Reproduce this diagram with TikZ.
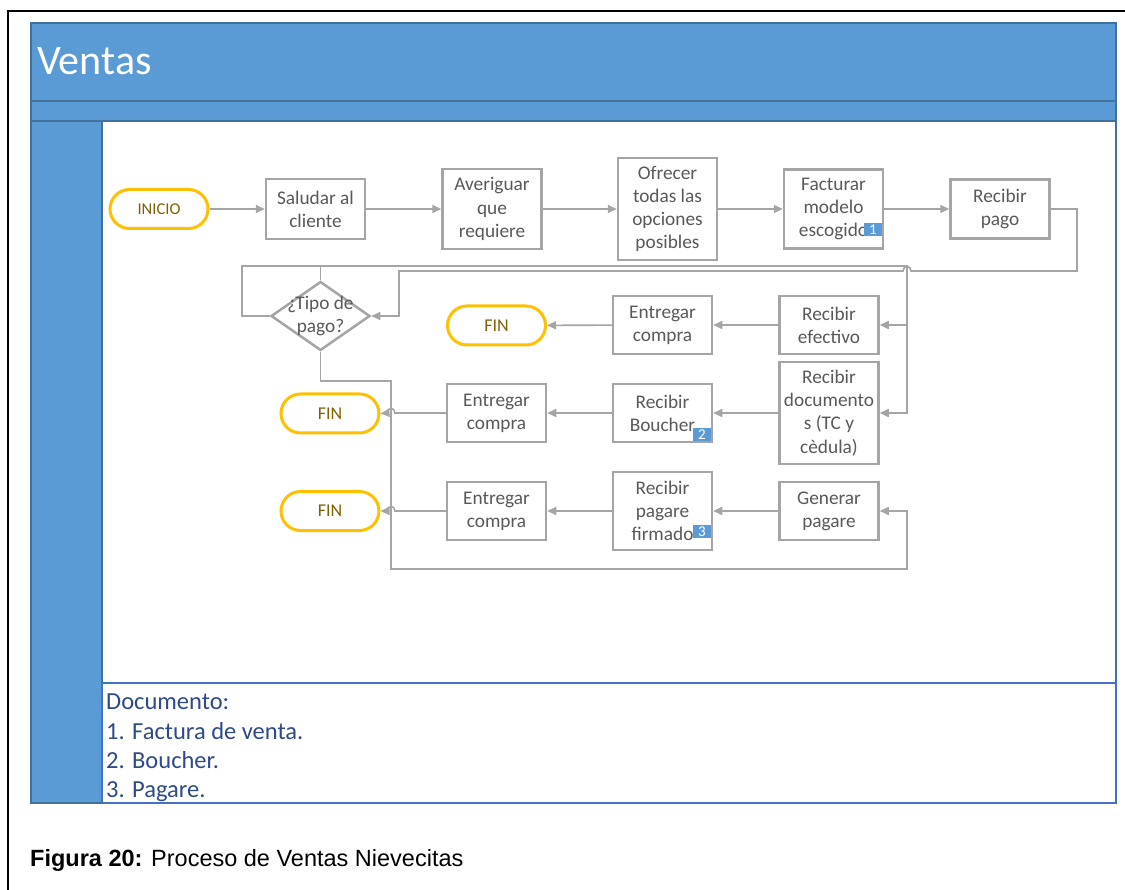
\documentclass[tikz,border=0pt]{standalone}
\usepackage{fontspec}
\setmainfont{Carlito}
\newfontfamily\capfont{Liberation Sans}
\usetikzlibrary{arrows.meta,shapes.geometric,calc}
\definecolor{lane}{HTML}{5B9BD5}
\definecolor{laneline}{HTML}{41719C}
\definecolor{docline}{HTML}{4472C4}
\definecolor{doctext}{HTML}{2E4A87}
\definecolor{boxline}{HTML}{A5A5A5}
\definecolor{boxtext}{HTML}{595959}
\definecolor{termline}{HTML}{FFC000}
\definecolor{termtext}{HTML}{7F6000}
\tikzset{
  stepbox/.style={draw=boxline, line width=2.5pt, fill=white, minimum width=99pt,
    align=center, text=boxtext, font=\fontsize{19.3}{23.2}\selectfont, inner sep=0pt},
  term/.style={draw=termline, line width=3pt, rounded corners=19.5pt, minimum width=98pt,
    minimum height=39pt, text=termtext, inner sep=0pt, fill=white},
  conn/.style={draw=boxline, line width=1.6pt},
  arr/.style={conn, -{Triangle[length=9pt,width=8pt]}},
  badge/.style={fill=lane, text=white, minimum width=18pt, minimum height=13pt,
    inner sep=0pt, font=\fontsize{15}{15}\selectfont},
  doc/.style={anchor=base west, inner sep=0pt, text=doctext, font=\fontsize{24.5}{29}\selectfont}
}
\begin{document}
\begin{tikzpicture}[x=1pt,y=-1pt]
\useasboundingbox (0,0) rectangle (1125,890);
% frame
\draw[line width=2pt, black] (8,890) -- (8,11) -- (1125,11);
% pool / lane
\fill[lane] (31,23) rectangle (1116,121);
\draw[laneline, line width=1.5pt] (31,23) rectangle (1116,101);
\draw[laneline, line width=1.5pt] (31,101) rectangle (1116,121);
\draw[laneline, fill=lane, line width=1.5pt] (31,121) rectangle (102,803);
\draw[laneline, line width=1.2pt] (102,121) rectangle (1116,683);
\draw[docline, line width=1.5pt] (102,683) rectangle (1116,803);
\node[anchor=base west, inner sep=0pt, text=white, font=\fontsize{42}{42}\selectfont] (titulo) at (37,75) {Ventas};
% documents text
\node[doc] (d0) at (106,709) {Documento:};
\node[doc] (d1) at (106,739) {1. Factura de venta.};
\node[doc] (d2) at (106,768) {2. Boucher.};
\node[doc] (d3) at (106,797) {3. Pagare.};
% caption
\node[anchor=base west, inner sep=0pt, font=\capfont\fontsize{23.5}{23.5}\selectfont] (caption) at (30,866.5) {\textbf{Figura 20:} Proceso de Ventas Nievecitas};
% row 1
\node[term, font=\fontsize{16.5}{16.5}\selectfont] (inicio) at (159,209) {INICIO};
\node[stepbox, minimum height=60pt] (saludar) at (315.5,209) {Saludar al\\cliente};
\node[stepbox, minimum height=80pt] (averiguar) at (492,209) {Averiguar\\que\\requiere};
\node[stepbox, minimum height=102pt] (ofrecer) at (667.5,209) {Ofrecer\\todas las\\opciones\\posibles};
\node[stepbox, minimum height=79pt] (facturar) at (833.5,209) {Facturar\\modelo\\escogido};
\node[stepbox, minimum height=59pt] (pago) at (1000,209) {Recibir\\pago};
% decision
\node[diamond, draw=boxline, line width=2.5pt, fill=white, minimum width=99pt, minimum height=69pt, inner sep=0pt,
  label={[name=tipotxt, text=boxtext, font=\fontsize{19.3}{23.2}\selectfont, align=center]center:¿Tipo de\\pago?}] (tipo) at (320.5,316) {};
% row 2
\node[term, font=\fontsize{18}{18}\selectfont] (fin1) at (496.5,325.5) {FIN};
\node[stepbox, minimum height=58pt] (entrega1) at (662.5,325) {Entregar\\compra};
\node[stepbox, minimum height=58pt] (efectivo) at (829,325) {Recibir\\efectivo};
% row 3
\node[term, font=\fontsize{18}{18}\selectfont] (fin2) at (330,413.5) {FIN};
\node[stepbox, minimum height=58pt] (entrega2) at (496.5,413) {Entregar\\compra};
\node[stepbox, minimum height=58pt] (boucher) at (662.5,413) {Recibir\\Boucher};
\node[stepbox, minimum height=102pt] (documentos) at (829,413) {Recibir\\documento\\s (TC y\\cèdula)};
% row 4
\node[term, font=\fontsize{18}{18}\selectfont] (fin3) at (330,511) {FIN};
\node[stepbox, minimum height=58pt] (entrega3) at (496.5,511) {Entregar\\compra};
\node[stepbox, minimum height=78pt] (firmado) at (662.5,511) {Recibir\\pagare\\firmado};
\node[stepbox, minimum height=58pt] (generar) at (829,511) {Generar\\pagare};
% badges
\node[badge] (b1) at (873,229.5) {1};
\node[badge] (b2) at (702,434.5) {2};
\node[badge] (b3) at (702,531.5) {3};
% connectors row 1
\draw[arr] (inicio) -- (saludar);
\draw[arr] (saludar) -- (averiguar);
\draw[arr] (averiguar) -- (ofrecer);
\draw[arr] (ofrecer) -- (facturar);
\draw[arr] (facturar) -- (pago);
\draw[arr] (pago.east) -- (1077,209) -- (1077,271) -- (911,271) .. controls (911,265) and (903,265) .. (903,271) -- (399,271) -- (399,316) -- (tipo.east);
% decision branches
\draw[arr] (tipo.north) -- (320.5,266) -- (907,266) -- (907,413) -- (documentos.east);
\draw[arr] (tipo.west) -- (242,316) -- (242,266) -- (907,266) -- (907,325) -- (efectivo.east);
\draw[arr] (tipo.south) -- (320.5,381) -- (391,381) -- (391,569) -- (907,569) -- (907,511) -- (generar.east);
% row 2
\draw[arr] (efectivo) -- (entrega1);
\draw[arr] (entrega1) -- (fin1);
% row 3
\draw[arr] (documentos) -- (boucher);
\draw[arr] (boucher) -- (entrega2);
\draw[arr] (entrega2.west) -- (395,413) .. controls (395,407) and (387,407) .. (387,413) -- (fin2.east);
% row 4
\draw[arr] (generar) -- (firmado);
\draw[arr] (firmado) -- (entrega3);
\draw[arr] (entrega3.west) -- (395,511) .. controls (395,505) and (387,505) .. (387,511) -- (fin3.east);
\end{tikzpicture}
\end{document}
